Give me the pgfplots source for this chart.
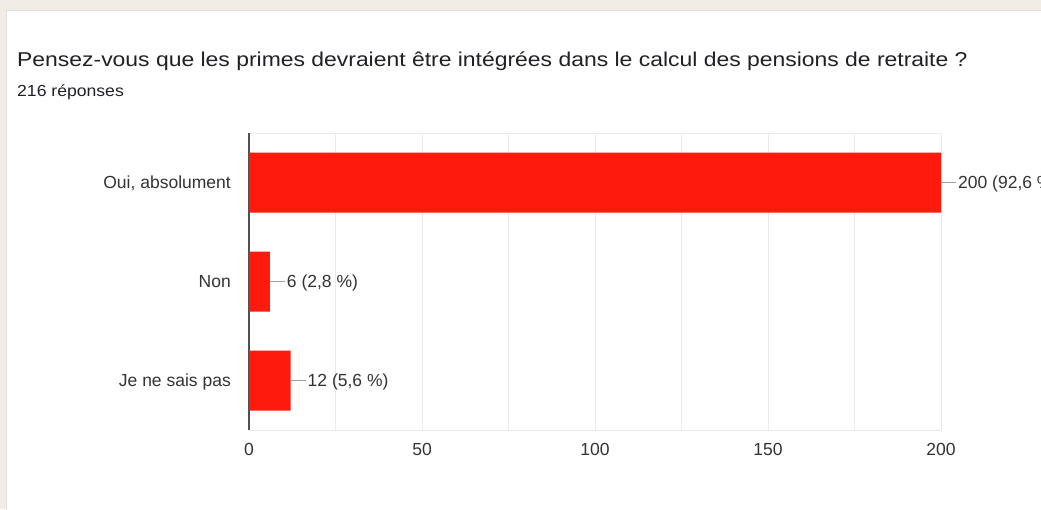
\documentclass[border=0pt]{standalone}
\usepackage{fontspec}
\setmainfont{Liberation Sans}
\usepackage{pgfplots}
\pgfplotsset{compat=1.18}
\definecolor{bg}{RGB}{241,236,230}
\definecolor{barred}{RGB}{255,26,14}
\definecolor{gridc}{RGB}{234,234,234}
\definecolor{txt}{RGB}{32,33,36}
\definecolor{lab}{RGB}{51,51,51}
\definecolor{axisc}{RGB}{80,80,80}
\definecolor{leader}{RGB}{160,160,160}
\begin{document}
\begin{tikzpicture}[x=1pt,y=1pt]
\path[use as bounding box] (0,0) rectangle (1041,509);
\clip (0,0) rectangle (1041,509);
\fill[bg] (0,0) rectangle (1041,509);
\fill[white,draw=black!12] (6.5,-5) rectangle (1050,498.5);
\node[anchor=base west,inner sep=0,text=txt,font=\fontsize{20}{24}\selectfont] at (17,442) {\scalebox{1.146}[1]{Pensez-vous que les primes devraient être intégrées dans le calcul des pensions de retraite ?}};
\node[anchor=base west,inner sep=0,text=txt,font=\fontsize{16}{19}\selectfont] at (17,412) {\scalebox{1.1}[1]{216 réponses}};
\begin{axis}[at={(249pt,79pt)}, anchor=south west, scale only axis,
  width=692pt, height=297pt,
  xbar, bar width=0.606, y dir=reverse,
  ymin=-0.5, ymax=2.5, xmin=0, xmax=200,
  ytick={0,1,2}, yticklabels={{Oui, absolument},Non,{Je ne sais pas}},
  xtick={0,50,...,200}, minor xtick={25,75,125,175},
  /pgf/number format/assume math mode=true,
  xmajorgrids, xminorgrids,
  grid style={gridc, line width=1pt}, minor grid style={gridc, line width=1pt},
  axis line style={gridc, line width=1pt},
  major tick length=0pt, minor tick length=0pt,
  extra x ticks={0}, extra x tick labels={},
  extra x tick style={grid style={axisc, line width=2pt}},
  xticklabel style={font=\fontsize{17.5}{20}\selectfont, text=lab, anchor=base, inner sep=0pt, yshift=-25pt},
  yticklabel style={font=\fontsize{17.5}{20}\selectfont, text=lab, anchor=base east, inner sep=0pt, xshift=-18pt, yshift=-6.3pt},
  point meta=explicit symbolic,
  nodes near coords={\textcolor{leader}{\rule[0.34em]{15pt}{1pt}}\hspace{2pt}\pgfplotspointmeta},
  nodes near coords style={font=\fontsize{17.5}{20}\selectfont, text=lab, anchor=base west, inner sep=0pt, yshift=-6.3pt},
  clip=false,
]
\addplot[fill=barred, draw=none] coordinates {
  (200,0) [200 (92,6~\%)]
  (6,1)   [6 (2,8~\%)]
  (12,2)  [12 (5,6~\%)]
};
\end{axis}
\end{tikzpicture}
\end{document}
